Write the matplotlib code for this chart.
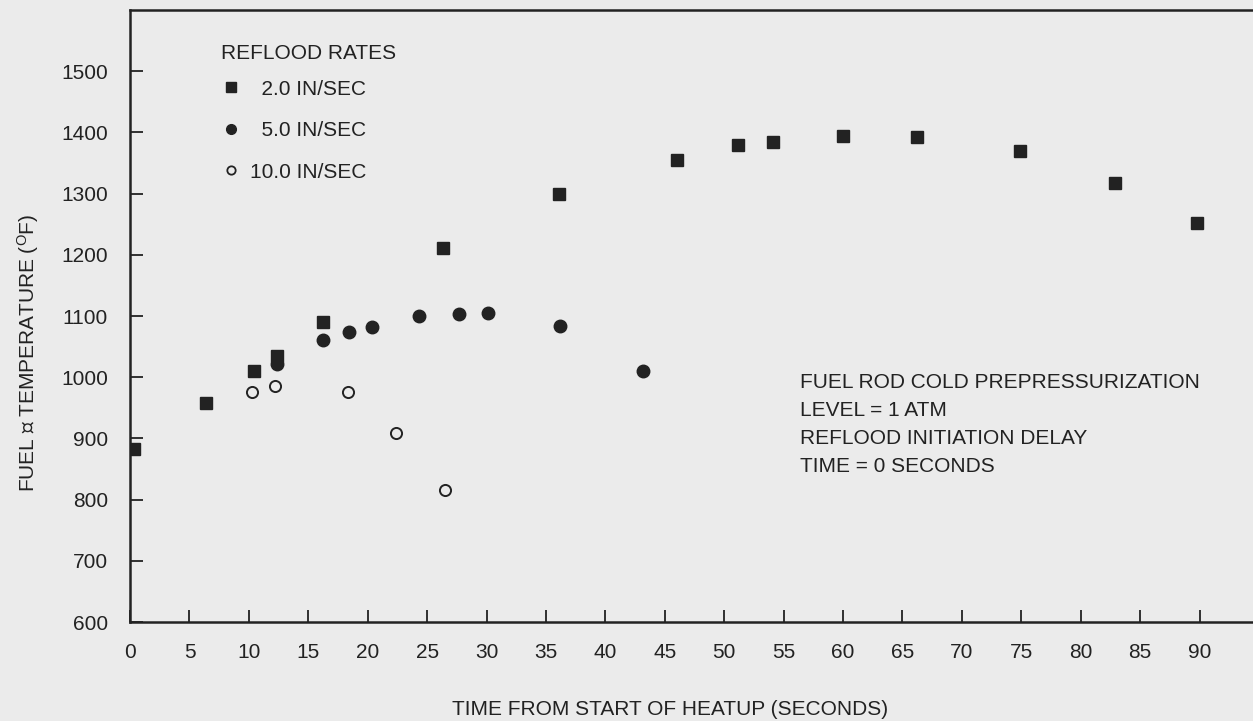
import matplotlib
matplotlib.use("Agg")
import matplotlib.pyplot as plt
from matplotlib.lines import Line2D

plt.rcParams.update({
    "font.family": ["Liberation Sans", "DejaVu Sans"],
    "figure.facecolor": "#ebebeb",
    "axes.facecolor": "#ebebeb",
    "xtick.direction": "in",
    "ytick.direction": "in",
})

# 2.0 IN/SEC reflood rate (filled squares)
t_2in = [0.3, 6.4, 10.4, 12.4, 16.2, 26.3, 36.1, 46.0, 51.2, 54.1, 60.0, 66.2, 74.9, 82.9, 89.8]
temp_2in = [882, 958, 1010, 1034, 1090, 1211, 1299, 1355, 1379, 1384, 1394, 1392, 1370, 1317, 1252]

# 5.0 IN/SEC reflood rate (filled circles)
t_5in = [12.4, 16.2, 18.4, 20.4, 24.3, 27.7, 30.1, 36.2, 43.2]
temp_5in = [1022, 1061, 1074, 1082, 1100, 1103, 1105, 1084, 1010]

# 10.0 IN/SEC reflood rate (open circles)
t_10in = [10.3, 12.2, 18.3, 22.4, 26.5]
temp_10in = [976, 986, 976, 909, 816]

xticks = list(range(0, 95, 5))
yticks = list(range(600, 1600, 100))

note = ("FUEL ROD COLD PREPRESSURIZATION\n"
        "LEVEL = 1 ATM\n"
        "REFLOOD INITIATION DELAY\n"
        "TIME = 0 SECONDS")

fig = plt.figure(figsize=(12.53, 7.21), dpi=100)
ax = fig.add_axes([0.1038, 0.1373, 0.8962, 0.8488])

ax.plot(t_2in, temp_2in, "s", color="#222222", markersize=8.5, linestyle="none")
ax.plot(t_5in, temp_5in, "o", color="#222222", markersize=9, linestyle="none")
ax.plot(t_10in, temp_10in, "o", markerfacecolor="none", markeredgecolor="#222222",
        markeredgewidth=1.4, markersize=8, linestyle="none")

ax.set_xlim(0, 94.5)
ax.set_ylim(600, 1600)
ax.set_xticks(xticks)
ax.set_yticks(yticks)
ax.tick_params(axis="both", length=9, width=1.3, colors="#222222", labelsize=15, pad=15)
ax.tick_params(axis="y", pad=16)

for side in ["left", "bottom", "top"]:
    ax.spines[side].set_linewidth(1.8)
    ax.spines[side].set_color("#222222")
ax.spines["right"].set_visible(False)

ax.set_xlabel("TIME FROM START OF HEATUP (SECONDS)", fontsize=15, color="#222222")
ax.xaxis.set_label_coords(0.4806, -0.128)
ax.set_ylabel("FUEL \u2104 TEMPERATURE ($\\mathregular{^{O}}$F)", fontsize=15, color="#222222")
ax.yaxis.set_label_coords(-0.079, 0.44)

handles = [
    Line2D([], [], marker="s", color="#222222", linestyle="none", markersize=6.5),
    Line2D([], [], marker="o", color="#222222", linestyle="none", markersize=7),
    Line2D([], [], marker="o", markerfacecolor="none", markeredgecolor="#222222",
           markeredgewidth=1.3, linestyle="none", markersize=6),
]
labels = ["  2.0 IN/SEC", "  5.0 IN/SEC", "10.0 IN/SEC"]
leg = ax.legend(handles, labels, title="REFLOOD RATES", loc="upper left",
                bbox_to_anchor=(0.0696, 0.965), frameon=False, fontsize=15,
                title_fontsize=15, labelspacing=1.08, handletextpad=0.4,
                handlelength=1.0, alignment="left", borderaxespad=0.2)
leg._legend_box.sep = 12
for txt in leg.get_texts():
    txt.set_color("#222222")
leg.get_title().set_color("#222222")

ax.text(56.4, 1007, note, fontsize=15, color="#222222", va="top", ha="left",
        linespacing=1.6)

fig.savefig("out.png", dpi=100, facecolor=fig.get_facecolor())
